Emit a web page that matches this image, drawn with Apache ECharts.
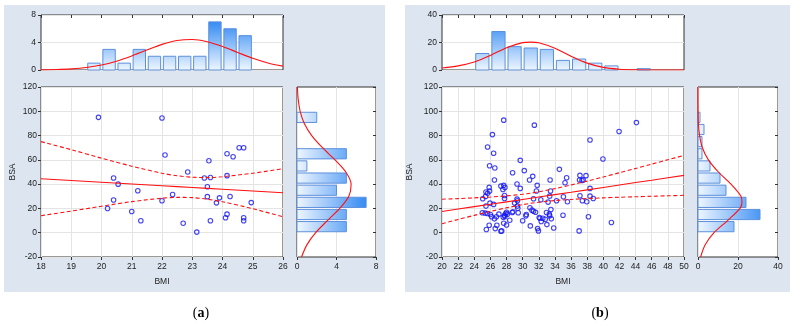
<!DOCTYPE html>
<html>
<head>
<meta charset="utf-8">
<script src="https://cdn.jsdelivr.net/npm/echarts@6/dist/echarts.min.js"></script>
<style>
    html, body { margin: 0; padding: 0; background: #fff; }
    #chart { width: 794px; height: 326px; }
</style>
</head>
<body>
<div id="chart"></div>
<script>
// ---- panel (a) ----
var bmiA = [19.9, 22.0, 22.1, 20.4, 20.55, 20.4, 20.2, 21.2, 21.0, 21.3, 22.0, 22.35, 22.7, 22.85, 23.15, 23.4, 23.55,
    23.6, 23.5, 23.5, 23.6, 23.8, 23.9, 24.15, 24.35, 24.15, 24.25, 24.15, 24.1, 24.55, 24.7, 24.7, 24.7, 24.95];
var bsaA = [95, 94.5, 64, 45, 40, 27, 20, 34.5, 17.5, 9.8, 26.3, 31.5, 7.8, 50, 0.5, 45, 59.3,
    45.5, 37.8, 29.7, 9.8, 24.6, 28.7, 65, 62.6, 47, 29.8, 15.3, 12.3, 70, 70, 12.3, 9.8, 24.8];
// histograms (bin start, count)
var bmiBinA = [19.5, 20, 20.5, 21, 21.5, 22, 22.5, 23, 23.5, 24, 24.5];
var bmiCountA = [1, 3, 1, 3, 2, 2, 2, 2, 7, 6, 5];
var bsaBinA = [0, 10, 20, 30, 40, 50, 60, 90];
var bsaCountA = [5, 5, 7, 4, 5, 1, 5, 2];
// fitted normal curves
var bmiCurveXA = [18, 18.5, 19, 19.5, 20, 20.5, 21, 21.5, 22, 22.5, 23, 23.5, 24, 24.5, 25, 25.5, 26];
var bmiCurveYA = [0.02, 0.07, 0.17, 0.36, 0.72, 1.28, 2.04, 2.91, 3.73, 4.3, 4.44, 4.12, 3.42, 2.56, 1.71, 1.03, 0.56];
var bsaCurveYA = [120, 110, 100, 90, 80, 70, 60, 50, 40, 30, 20, 10, 0, -10, -20];
var bsaCurveXA = [0.04, 0.12, 0.32, 0.74, 1.49, 2.58, 3.85, 4.94, 5.48, 5.25, 4.33, 3.08, 1.89, 1.0, 0.46];
// regression line and 95% band
var fitXA = [18, 19, 20, 21, 22, 22.5, 23, 23.5, 24, 25, 26];
var fitA = [44.5, 43.05, 41.6, 40.15, 38.7, 37.98, 37.25, 36.53, 35.8, 34.35, 32.9];
var upA = [75.0, 68.4, 61.4, 54.8, 49.0, 46.9, 45.7, 45.4, 46.1, 49.0, 52.7];
var loA = [14.0, 17.8, 21.8, 25.6, 28.4, 29.1, 28.9, 27.6, 25.5, 19.8, 13.1];

// ---- panel (b) ----
var bmiB = [27.65, 31.45, 26.25, 25.65, 26.4, 26.55, 25.9, 29.7, 28.75, 30.2, 31.25, 26.5, 33.4,
    34.55, 35.45, 35.25, 30.85, 25.85, 25.9, 25.65, 25.45, 25.4, 25.05,
    27.3, 27.65, 27.8, 27.55, 27.75, 27.75, 29.3, 29.7, 31.8, 31.7, 33.45,
    31.35, 29.3, 29.35, 32.25, 33.15, 33.35, 34.2, 35.05, 35.55,
    37.1, 37.85, 37.05, 37.5, 37.35, 38.35, 38.35, 38.35, 38.75, 37.1, 37.4, 37.95,
    39.95, 41.95, 44.1, 41.0, 38.15, 37.0,
    25.0, 25.35, 25.45, 25.95, 26.4, 25.65, 26.0, 26.15, 25.85, 25.5,
    26.5, 26.6, 26.8, 26.75, 27.05, 27.3, 27.4, 27.65, 27.6, 27.8,
    27.75, 27.9, 28.0, 28.0, 28.1, 28.4, 28.7, 28.8, 29.0, 29.35,
    29.4, 29.45, 30.0, 30.4, 30.45, 30.9, 30.95, 31.15, 31.35, 31.6,
    31.85, 31.95, 32.05, 32.15, 32.3, 32.5, 32.8, 32.95, 33.0, 33.3,
    33.35, 33.5, 33.55, 33.85, 35.0];
var bsaB = [92.7, 88.6, 80.8, 70.6, 65.4, 53.3, 55.2, 59.6, 49.4, 51.1, 46.4, 43.4, 43.4,
    52.2, 45.3, 41.1, 43.4, 37.3, 34.3, 32.4, 33.5, 29.9, 28.0,
    38.4, 39.0, 37.3, 35.6, 30.7, 28.2, 40.1, 36.5, 39.0, 34.3, 34.3,
    28.0, 27.7, 26.3, 27.1, 25.2, 30.1, 26.3, 29.6, 25.5,
    47.2, 47.0, 43.4, 43.6, 43.1, 76.4, 36.5, 30.1, 28.2, 30.4, 26.3, 25.5,
    60.7, 83.3, 90.7, 8.4, 13.1, 1.5,
    16.4, 16.1, 21.9, 24.4, 23.3, 15.8, 15.0, 13.1, 6.2, 2.6,
    11.4, 3.4, 6.2, 13.1, 15.3, 1.2, 1.5, 7.8, 12.8, 13.3,
    14.4, 15.8, 16.9, 6.4, 15.3, 10.3, 16.6, 17.2, 24.4, 21.9,
    20.2, 16.4, 9.8, 13.9, 15.0, 20.5, 5.6, 18.6, 17.7, 16.9,
    3.4, 1.5, 12.5, 11.9, 9.2, 11.9, 11.1, 16.6, 6.7, 15.3,
    13.9, 19.1, 11.4, 3.9, 14.4];
var bmiBinB = [24, 26, 28, 30, 32, 34, 36, 38, 40, 44];
var bmiCountB = [12, 28, 17, 16, 15, 7, 8, 5, 3, 1];
var bsaBinB = [0, 10, 20, 30, 40, 50, 60, 70, 80, 90];
var bsaCountB = [18, 31, 24, 14, 11, 6, 2, 2, 3, 1];
var bmiCurveXB = [20, 22, 24, 26, 28, 30, 31, 32, 34, 36, 38, 40, 42, 44, 46, 48, 50];
var bmiCurveYB = [1.5, 3.0, 5.8, 10.6, 16.2, 19.9, 20.3, 19.8, 15.8, 10.0, 5.0, 1.9, 0.6, 0.15, 0.03, 0, 0];
var bsaCurveYB = [120, 110, 100, 90, 80, 70, 60, 50, 40, 30, 25, 20, 10, 0, -10, -20];
var bsaCurveXB = [0, 0.01, 0.05, 0.2, 0.8, 2.2, 5.2, 10.2, 16.5, 21.5, 22, 21, 14.8, 8.0, 3.6, 1.3];
var fitXB = [20, 22, 24, 26, 28, 30, 31, 32, 34, 36, 38, 40, 42, 44, 46, 48, 50];
var fitB = [17.5, 19.5, 21.5, 23.4, 25.4, 27.4, 28.4, 29.4, 31.4, 33.3, 35.3, 37.3, 39.3, 41.3, 43.2, 45.2, 47.2];
var upB = [27.6, 28.1, 28.7, 29.4, 30.3, 31.7, 32.6, 33.7, 36.3, 39.3, 42.5, 45.9, 49.4, 52.9, 56.5, 60.1, 63.6];
var loB = [7.4, 10.9, 14.3, 17.5, 20.5, 23.1, 24.2, 25.1, 26.5, 27.4, 28.1, 28.7, 29.2, 29.6, 30.0, 30.4, 30.8];

var FONT = 'Liberation Sans';
var DARK = '#1b7cf2', LIGHT = '#eef6fe';

function zip(xs, ys) {
    return xs.map(function (x, i) { return [x, ys[i]]; });
}
function bins(starts, counts, width) {
    return starts.map(function (s, i) { return [s, s + width, counts[i]]; });
}

// vertical histogram bars (top panels)
function renderTopHist(params, api) {
    var cs = params.coordSys;
    var p0 = api.coord([api.value(0), api.value(2)]);
    var p1 = api.coord([api.value(1), 0]);
    var gap = (p1[0] - p0[0]) * 0.09;
    return {
        type: 'rect',
        shape: { x: p0[0] + gap, y: p0[1], width: p1[0] - p0[0] - 2 * gap, height: p1[1] - p0[1] },
        style: {
            fill: new echarts.graphic.LinearGradient(0, cs.y, 0, cs.y + cs.height,
                [{ offset: 0, color: DARK }, { offset: 1, color: LIGHT }], true),
            stroke: '#5d90dc',
            lineWidth: 1
        }
    };
}
// horizontal histogram bars (right panels)
function renderSideHist(params, api) {
    var cs = params.coordSys;
    var p0 = api.coord([0, api.value(1)]);
    var p1 = api.coord([api.value(2), api.value(0)]);
    var gap = (p1[1] - p0[1]) * 0.08;
    return {
        type: 'rect',
        shape: { x: p0[0], y: p0[1] + gap, width: p1[0] - p0[0], height: p1[1] - p0[1] - 2 * gap },
        style: {
            fill: new echarts.graphic.LinearGradient(cs.x, 0, cs.x + cs.width, 0,
                [{ offset: 0, color: LIGHT }, { offset: 1, color: DARK }], true),
            stroke: '#5d90dc',
            lineWidth: 1
        }
    };
}

function grid(left, top, width, height) {
    return { left: left, top: top, width: width, height: height, show: true,
        backgroundColor: '#fff', borderColor: '#333', borderWidth: 1 };
}
function axis(gridIndex, min, max, interval, extra) {
    var a = {
        gridIndex: gridIndex, type: 'value', min: min, max: max, interval: interval,
        axisLine: { show: false, onZero: false },
        axisTick: { show: true, length: 3, lineStyle: { color: '#333' } },
        axisLabel: { show: true, fontSize: 8.5, fontFamily: FONT, color: '#222', margin: 5 },
        splitLine: { show: true, lineStyle: { color: '#e4e4e4', width: 1 } },
        nameTextStyle: { fontSize: 8.5, fontFamily: FONT, color: '#222' }
    };
    for (var k in extra) {
        if (typeof extra[k] === 'object' && a[k]) {
            for (var j in extra[k]) a[k][j] = extra[k][j];
        } else {
            a[k] = extra[k];
        }
    }
    return a;
}
var hideLabel = { show: false };
var topEdge = { position: 'top', axisLabel: hideLabel, axisTick: { inside: true }, splitLine: { show: false } };
var rightEdge = { position: 'right', axisLabel: hideLabel, axisTick: { inside: true }, splitLine: { show: false } };

function curve(xi, yi, data, dashed) {
    return {
        type: 'line', xAxisIndex: xi, yAxisIndex: yi, data: data, smooth: dashed === 'smooth' ? 0.3 : false,
        showSymbol: false, silent: true, z: 5,
        lineStyle: { color: '#ff1010', width: 1.1, type: dashed === true ? [4, 2.5] : 'solid' }
    };
}
function bandLine(xi, yi, data) {
    var s = curve(xi, yi, data, true);
    s.smooth = 0.3;
    return s;
}
function scatter(xi, yi, xs, ys) {
    return {
        type: 'scatter', xAxisIndex: xi, yAxisIndex: yi, data: zip(xs, ys), symbolSize: 4.5,
        itemStyle: { color: 'rgba(0,0,0,0)', borderColor: '#1414f0', borderWidth: 1.1 }, z: 4
    };
}

var option = {
    animation: false,
    graphic: [
        { type: 'rect', z: -10, shape: { x: 4, y: 5, width: 381, height: 287 }, style: { fill: '#dce5f0' } },
        { type: 'rect', z: -10, shape: { x: 405, y: 5, width: 385, height: 287 }, style: { fill: '#dce5f0' } },
        { type: 'text', x: 201, y: 313, style: { text: '({b|a})', fill: '#000', font: '14px "Liberation Serif"',
            align: 'center', verticalAlign: 'middle',
            rich: { b: { fontWeight: 'bold', fontSize: 14, fontFamily: 'Liberation Serif' } } } },
        { type: 'text', x: 600, y: 313, style: { text: '({b|b})', fill: '#000', font: '14px "Liberation Serif"',
            align: 'center', verticalAlign: 'middle',
            rich: { b: { fontWeight: 'bold', fontSize: 14, fontFamily: 'Liberation Serif' } } } }
    ],
    grid: [
        grid(41, 15, 242, 55),
        grid(41, 87, 242, 170),
        grid(297, 87, 79, 170),
        grid(442, 15, 242, 55),
        grid(442, 87, 242, 170),
        grid(698, 87, 80, 170)
    ],
    xAxis: [
        axis(0, 18, 26, 1, topEdge),
        axis(1, 18, 26, 1, { name: 'BMI', nameLocation: 'middle', nameGap: 20 }),
        axis(2, 0, 8, 4, {}),
        axis(3, 20, 50, 2, topEdge),
        axis(4, 20, 50, 2, { name: 'BMI', nameLocation: 'middle', nameGap: 20 }),
        axis(5, 0, 40, 20, {})
    ],
    yAxis: [
        axis(0, 0, 8, 4, { axisLabel: { margin: 5 } }),
        axis(1, -20, 120, 20, { name: 'BSA', nameLocation: 'middle', nameGap: 24, axisLabel: { margin: 4 } }),
        axis(2, -20, 120, 20, rightEdge),
        axis(3, 0, 40, 20, { axisLabel: { margin: 5 } }),
        axis(4, -20, 120, 20, { name: 'BSA', nameLocation: 'middle', nameGap: 28, axisLabel: { margin: 4 } }),
        axis(5, -20, 120, 20, rightEdge)
    ],
    series: [
        // panel (a)
        { type: 'custom', xAxisIndex: 0, yAxisIndex: 0, renderItem: renderTopHist,
            encode: { x: [0, 1], y: 2 }, data: bins(bmiBinA, bmiCountA, 0.5), z: 3 },
        curve(0, 0, zip(bmiCurveXA, bmiCurveYA), 'smooth'),
        scatter(1, 1, bmiA, bsaA),
        curve(1, 1, zip(fitXA, fitA), false),
        bandLine(1, 1, zip(fitXA, upA)),
        bandLine(1, 1, zip(fitXA, loA)),
        { type: 'custom', xAxisIndex: 2, yAxisIndex: 2, renderItem: renderSideHist,
            encode: { x: 2, y: [0, 1] }, data: bins(bsaBinA, bsaCountA, 10), z: 3 },
        curve(2, 2, zip(bsaCurveXA, bsaCurveYA), 'smooth'),
        // panel (b)
        { type: 'custom', xAxisIndex: 3, yAxisIndex: 3, renderItem: renderTopHist,
            encode: { x: [0, 1], y: 2 }, data: bins(bmiBinB, bmiCountB, 2), z: 3 },
        curve(3, 3, zip(bmiCurveXB, bmiCurveYB), 'smooth'),
        scatter(4, 4, bmiB, bsaB),
        curve(4, 4, zip(fitXB, fitB), false),
        bandLine(4, 4, zip(fitXB, upB)),
        bandLine(4, 4, zip(fitXB, loB)),
        { type: 'custom', xAxisIndex: 5, yAxisIndex: 5, renderItem: renderSideHist,
            encode: { x: 2, y: [0, 1] }, data: bins(bsaBinB, bsaCountB, 10), z: 3 },
        curve(5, 5, zip(bsaCurveXB, bsaCurveYB), 'smooth')
    ]
};

var myChart = echarts.init(document.getElementById('chart'));
myChart.setOption(option);
window.onresize = myChart.resize;
</script>
</body>
</html>
